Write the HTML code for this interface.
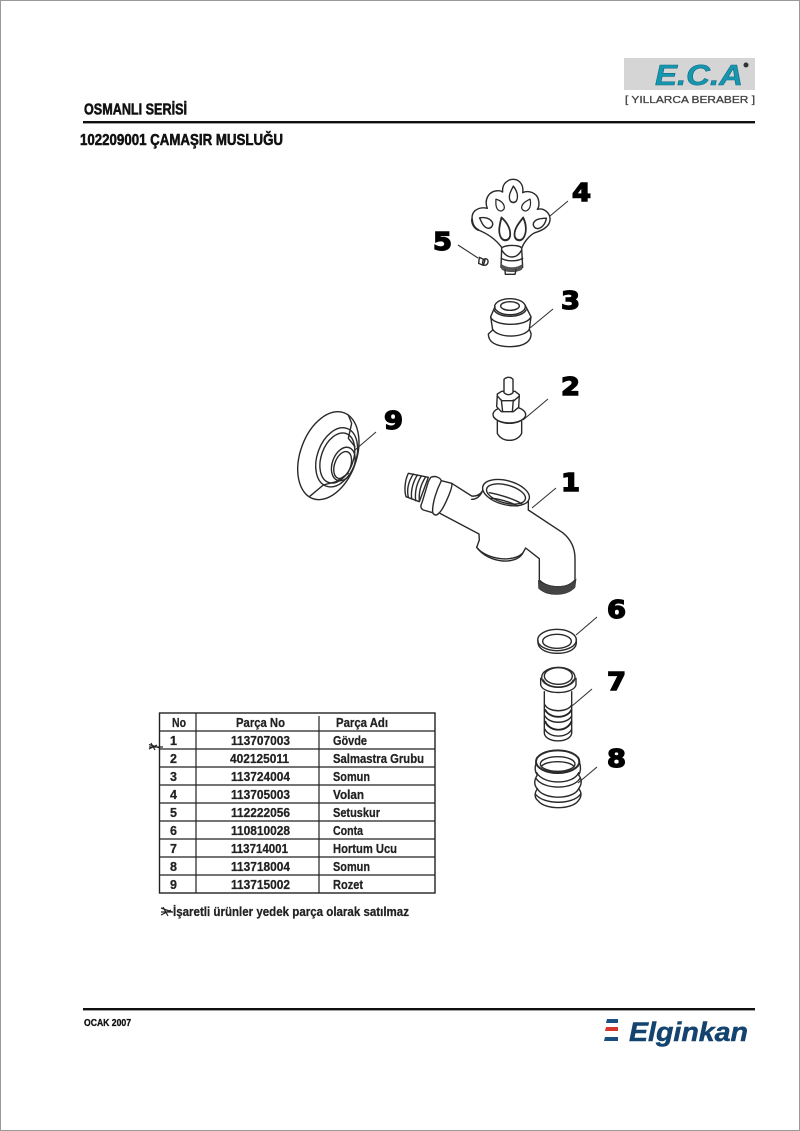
<!DOCTYPE html>
<html><head><meta charset="utf-8"><style>
html,body{margin:0;padding:0;background:#fff}
svg{display:block;filter:blur(.35px)}
text{font-family:"Liberation Sans",sans-serif;font-weight:bold;fill:#1a1a1a}
.n{font-family:"DejaVu Sans",sans-serif;font-size:25px;stroke:#000;stroke-width:1.4;fill:#000}
.t{font-size:12.5px;fill:#222;stroke:#222;stroke-width:.25}
.h{stroke:#111;stroke-width:.55;fill:#111}
.p{fill:none;stroke:#2a2a2a;stroke-width:4.2;stroke-linejoin:round;stroke-linecap:round}
.w{fill:#fff}
.l{stroke:#333;stroke-width:1.1;fill:none}
</style></head><body>
<svg width="800" height="1131" viewBox="0 0 800 1131" xmlns="http://www.w3.org/2000/svg">
<defs><path id="d" d="M0,-30 C14,-16 22,4 14,20 C8,30 -8,30 -14,20 C-22,4 -10,-14 0,-30Z"/></defs>
<rect x="0.5" y="0.5" width="799" height="1130" fill="#fff" stroke="#999"/>

<!-- logo -->
<rect x="624" y="58" width="131" height="32" fill="#d5d5d5"/>
<text x="655" y="85" font-size="29" font-style="italic" textLength="88" lengthAdjust="spacingAndGlyphs" style="fill:#1796b0;font-style:italic;stroke:#0b6f85;stroke-width:.6">E.C.A</text>
<circle cx="746" cy="65" r="2.5" fill="#333"/>
<text x="625" y="103" font-size="10" textLength="130" lengthAdjust="spacingAndGlyphs" style="fill:#444;font-weight:normal;stroke:#444;stroke-width:.3">[ YILLARCA BERABER ]</text>

<!-- headings -->
<text class="h" x="84" y="114.5" font-size="15.5" textLength="103" lengthAdjust="spacingAndGlyphs">OSMANLI SERİSİ</text>
<rect x="83" y="121" width="672" height="2.4" fill="#111"/>
<text class="h" x="80" y="145" font-size="15.5" textLength="203" lengthAdjust="spacingAndGlyphs">102209001 ÇAMAŞIR MUSLUĞU</text>

<!-- leader lines -->
<g class="l">
<path d="M550,216 L568,201"/><path d="M458,245 L478,258"/><path d="M530,328 L553,309"/>
<path d="M523,420 L548,399"/><path d="M355,450 L376,432"/><path d="M532,508 L556,488"/>
<path d="M576,635 L597,617"/><path d="M572,706 L592,689"/><path d="M578,783 L597,767"/>
</g>

<!-- part 4, 5, 3 -->
<g transform="translate(420,170) scale(.33333)">
<path class="p" d="M245,232 C225,205 200,190 175,180 C155,170 150,135 165,122 C178,112 190,112 202,115 C192,90 205,62 235,62 C240,62 245,64 248,66 C245,40 265,28 280,28 C298,28 312,45 308,68 C325,60 350,68 355,88 C358,100 358,110 352,118 C372,112 392,130 390,150 C388,172 365,182 345,188 C330,195 312,215 305,235"/>
<path class="p" d="M175,180 C160,172 156,160 156,148" style="stroke-width:6"/>
<g class="p" style="stroke-width:5.5">
<use href="#d" transform="translate(280,74) scale(.72,.85)"/>
<use href="#d" transform="translate(238,105) rotate(-30) scale(.68)"/>
<use href="#d" transform="translate(320,105) rotate(30) scale(.68)"/>
<use href="#d" transform="translate(198,157) rotate(-55) scale(.78)"/>
<use href="#d" transform="translate(360,158) rotate(55) scale(.78)"/>
<use href="#d" transform="translate(252,178) rotate(-12) scale(.95,1.2)"/>
<use href="#d" transform="translate(302,178) rotate(12) scale(.95,1.2)"/>
</g>
<path class="p" d="M245,235 C248,225 300,222 305,235 L308,292 C290,304 260,304 243,292 Z"/>
<path class="p" d="M245,240 C262,268 290,268 305,240"/>
<path class="p" d="M244,265 C262,275 290,275 308,265"/>
<path d="M243,282 C262,296 290,296 308,282 L306,298 C292,308 258,308 245,298Z" fill="#555" stroke="#333"/>
<path class="p" d="M255,300 L256,313 L285,313 L288,300"/>
<!-- 5 -->
<path class="p" d="M178,262 L195,270 L190,286 L176,280 Z"/>
<ellipse class="p" cx="196" cy="276" rx="8" ry="10" transform="rotate(20 196 276)"/>
<!-- 3 -->
<path class="p" d="M225,410 L212,440 L218,480 L205,492 C205,515 225,530 270,530 C315,530 335,512 333,490 L328,478 L333,440 L315,405"/>
<ellipse class="p" cx="270" cy="410" rx="46" ry="24"/>
<ellipse class="p" cx="270" cy="408" rx="28" ry="13"/>
<path class="p" d="M222,420 C235,445 305,445 318,420"/>
<path class="p" d="M212,442 C225,470 320,470 332,442"/>
<path class="p" d="M218,478 C235,505 310,505 328,478"/>
</g>

<!-- part 9, 2, 1 -->
<g transform="translate(280,370) scale(.33333)">
<!-- 9 -->
<ellipse class="p" cx="145" cy="257" rx="84" ry="137" transform="rotate(20 145 257)"/>
<ellipse class="p" cx="170" cy="262" rx="58" ry="92" transform="rotate(20 170 262)"/>
<ellipse class="p" cx="172" cy="264" rx="48" ry="78" transform="rotate(20 172 264)"/>
<ellipse class="p" cx="190" cy="282" rx="33" ry="52" transform="rotate(20 190 282)"/>
<ellipse class="p" cx="188" cy="285" rx="24" ry="42" transform="rotate(20 188 285)"/>
<path class="p" d="M205,135 L215,160 L205,205 L225,230 M88,380 L130,345 L168,335 L205,310"/>
<!-- 2 -->
<path class="p" d="M652,155 L652,190 C665,218 712,218 725,190 L725,155"/>
<ellipse class="w p" cx="688" cy="134" rx="49" ry="25"/>
<path class="p" d="M642,142 C660,166 716,166 735,142"/>
<path class="w p" d="M652,72 L665,64 L705,64 L718,74 L716,112 L700,125 L664,125 L650,110Z"/>
<path class="p" d="M664,90 L668,125 M700,90 L697,125 M652,78 L665,92 L702,92 L718,78"/>
<path class="w p" d="M672,28 C680,20 692,20 699,28 L699,68 C690,76 680,76 672,68Z"/>
<!-- 1 body -->
<path class="w p" d="M515,340 L575,378 C590,380 600,375 608,362 M575,388 C590,388 600,380 608,362 M745,420 L848,488 C875,510 885,535 885,565 L885,630 C860,660 800,655 778,630 L778,566 L737,534 L727,552 C705,585 625,580 590,532 L598,510 L597,492 L480,430"/>
<ellipse class="w p" cx="678" cy="368" rx="72" ry="36" transform="rotate(15 678 368)"/>
<ellipse class="p" cx="678" cy="372" rx="60" ry="27" transform="rotate(15 678 372)"/>
<path class="p" d="M628,368 C650,372 700,385 726,402 M632,385 C650,385 690,395 712,408"/>
<path class="p" d="M745,395 L745,420"/>
<path d="M775,632 C800,652 860,660 888,628 L885,652 C860,680 800,680 776,655Z" fill="#444" stroke="#333" stroke-width="2"/>
<path class="p" d="M590,532 C620,570 700,578 727,550"/>
<!-- collar -->
<path class="w p" d="M452,322 C465,316 480,322 484,332 L515,340 C520,350 490,420 476,430 C470,438 462,436 458,428 L430,420 C420,415 422,405 426,398 L445,335 Z"/>
<path class="p" d="M484,332 C470,360 456,400 458,428"/>
<!-- thread -->
<path class="w p" d="M385,310 L445,322 L418,395 L378,380 C372,360 375,330 385,310Z"/>
<path class="p" d="M400,312 C385,335 380,360 385,382 M412,315 C398,338 392,362 395,387 M424,318 C410,340 404,365 407,392 M436,322 C422,345 416,365 418,393"/>
</g>

<!-- part 6, 7, 8 -->
<g transform="translate(510,590) scale(.33333)">
<!-- 6 -->
<path class="p" d="M84,152 L84,160 C90,200 195,200 199,160 L199,148"/>
<ellipse class="p" cx="141" cy="150" rx="58" ry="32"/>
<ellipse class="p" cx="141" cy="154" rx="43" ry="21"/>
<!-- 7 -->
<path class="p" d="M103,305 L103,430 C108,460 180,460 185,430 L185,305"/>
<path class="w p" d="M92,265 L92,285 C100,315 190,315 198,285 L198,265"/>
<ellipse class="w p" cx="145" cy="262" rx="50" ry="30"/>
<ellipse class="p" cx="145" cy="258" rx="42" ry="25"/>
<path class="p" d="M100,270 C112,298 178,298 190,270"/>
<path class="p" d="M105,345 C118,368 172,368 185,345"/>
<path d="M105,358 C118,388 172,388 185,358" fill="none" stroke="#222" stroke-width="5.5"/>
<path class="p" d="M105,378 C118,403 172,403 185,378"/>
<path d="M105,393 C118,428 172,428 185,393" fill="none" stroke="#222" stroke-width="5.5"/>
<path class="p" d="M105,418 C118,445 172,445 185,418"/>
<!-- 8 -->
<path class="p" d="M78,520 C72,540 78,550 82,555 C72,570 72,585 82,597 C72,610 74,625 84,632 C105,660 185,660 205,632 C215,620 216,608 206,596 C216,582 216,568 206,555 C212,545 213,530 208,515"/>
<ellipse class="p" cx="143" cy="515" rx="65" ry="34" style="stroke-width:6"/>
<ellipse class="p" cx="143" cy="522" rx="52" ry="22"/>
<path class="p" d="M94,530 C105,510 180,510 192,530"/>
<path class="p" d="M80,548 C100,585 190,585 206,548 M78,565 C100,600 190,600 210,565 M82,596 C100,630 190,630 206,596 M76,612 C100,645 190,645 212,612"/>
</g>

<!-- digits -->
<g>
<text class="n" x="572" y="201" textLength="19" lengthAdjust="spacingAndGlyphs">4</text>
<text class="n" x="433" y="250" textLength="19" lengthAdjust="spacingAndGlyphs">5</text>
<text class="n" x="561" y="309" textLength="19" lengthAdjust="spacingAndGlyphs">3</text>
<text class="n" x="561" y="395" textLength="19" lengthAdjust="spacingAndGlyphs">2</text>
<text class="n" x="384" y="429" textLength="19" lengthAdjust="spacingAndGlyphs">9</text>
<text class="n" x="561" y="491" textLength="19" lengthAdjust="spacingAndGlyphs">1</text>
<text class="n" x="607" y="618" textLength="19" lengthAdjust="spacingAndGlyphs">6</text>
<text class="n" x="607" y="690" textLength="19" lengthAdjust="spacingAndGlyphs">7</text>
<text class="n" x="607" y="767" textLength="19" lengthAdjust="spacingAndGlyphs">8</text>
</g>

<!-- table -->
<g stroke="#222" stroke-width="1.2" fill="none">
<rect x="159.5" y="713" width="275.5" height="180" stroke-width="1.4"/>
<path d="M160,731H435M160,749H435M160,767H435M160,785H435M160,803H435M160,821H435M160,839H435M160,857H435M160,875H435"/>
<path d="M196,713V893M319,716V893"/>
<path d="M149,744.5L160,748M149,749L157,745M151,743L155,750M149,747H163"/>
<path d="M161,908L172,912M161,915L171,910M163,907L168,916M161,912H173"/>
</g>
<g class="t">
<text class="t" x="172" y="727" textLength="14" lengthAdjust="spacingAndGlyphs">No</text>
<text class="t" x="236" y="727" textLength="49" lengthAdjust="spacingAndGlyphs">Parça No</text>
<text class="t" x="336" y="727" textLength="52" lengthAdjust="spacingAndGlyphs">Parça Adı</text>

<text class="t" x="170" y="745">1</text><text class="t" x="231" y="745" textLength="59" lengthAdjust="spacingAndGlyphs">113707003</text><text class="t" x="333" y="745" textLength="34" lengthAdjust="spacingAndGlyphs">Gövde</text>
<text class="t" x="170" y="763">2</text><text class="t" x="230" y="763" textLength="59" lengthAdjust="spacingAndGlyphs">402125011</text><text class="t" x="333" y="763" textLength="91" lengthAdjust="spacingAndGlyphs">Salmastra Grubu</text>
<text class="t" x="170" y="781">3</text><text class="t" x="231" y="781" textLength="59" lengthAdjust="spacingAndGlyphs">113724004</text><text class="t" x="333" y="781" textLength="37" lengthAdjust="spacingAndGlyphs">Somun</text>
<text class="t" x="170" y="799">4</text><text class="t" x="231" y="799" textLength="59" lengthAdjust="spacingAndGlyphs">113705003</text><text class="t" x="333" y="799" textLength="31" lengthAdjust="spacingAndGlyphs">Volan</text>
<text class="t" x="170" y="817">5</text><text class="t" x="231" y="817" textLength="59" lengthAdjust="spacingAndGlyphs">112222056</text><text class="t" x="333" y="817" textLength="47" lengthAdjust="spacingAndGlyphs">Setuskur</text>
<text class="t" x="170" y="835">6</text><text class="t" x="231" y="835" textLength="59" lengthAdjust="spacingAndGlyphs">110810028</text><text class="t" x="333" y="835" textLength="30" lengthAdjust="spacingAndGlyphs">Conta</text>
<text class="t" x="170" y="853">7</text><text class="t" x="231" y="853" textLength="57" lengthAdjust="spacingAndGlyphs">113714001</text><text class="t" x="333" y="853" textLength="64" lengthAdjust="spacingAndGlyphs">Hortum Ucu</text>
<text class="t" x="170" y="871">8</text><text class="t" x="231" y="871" textLength="59" lengthAdjust="spacingAndGlyphs">113718004</text><text class="t" x="333" y="871" textLength="37" lengthAdjust="spacingAndGlyphs">Somun</text>
<text class="t" x="170" y="889">9</text><text class="t" x="231" y="889" textLength="59" lengthAdjust="spacingAndGlyphs">113715002</text><text class="t" x="333" y="889" textLength="30" lengthAdjust="spacingAndGlyphs">Rozet</text>
</g>
<text class="t" x="173" y="916" textLength="236" lengthAdjust="spacingAndGlyphs">İşaretli ürünler yedek parça olarak satılmaz</text>

<!-- footer -->
<rect x="83" y="1008" width="672" height="2.4" fill="#111"/>
<text class="h" x="84" y="1026" font-size="10" textLength="47" lengthAdjust="spacingAndGlyphs" style="stroke-width:.3">OCAK 2007</text>
<path d="M607,1019H618V1023H606Z" fill="#1b4f80"/>
<path d="M606,1027H618V1031H605Z" fill="#d4382c"/>
<path d="M605,1037H618V1041H604Z" fill="#1b4f80"/>
<text x="629" y="1041" font-size="27" textLength="119" lengthAdjust="spacingAndGlyphs" style="fill:#14436f;stroke:#14436f;stroke-width:.5;font-style:italic">Elginkan</text>
</svg>
</body></html>
